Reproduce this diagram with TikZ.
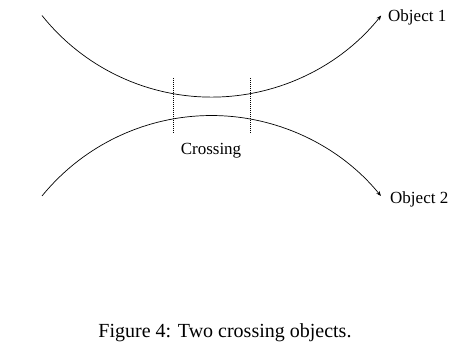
\documentclass[tikz,border=0pt]{standalone}
\usepackage{fontspec}
\setmainfont{Liberation Serif}
\usetikzlibrary{arrows.meta}
\begin{document}
\begin{tikzpicture}[x=1pt,y=1pt,
  curve/.style={line width=0.7pt,-{Stealth[length=5pt,width=4pt]}},
  guide/.style={line width=0.4pt,dash pattern=on 1pt off 1pt},
  lbl/.style={inner sep=0pt,font=\fontsize{17}{20}\selectfont},
  captext/.style={inner sep=0pt,font=\fontsize{20}{24}\selectfont}]
\useasboundingbox (0,0) rectangle (449,351);
% start points of the curves
\coordinate (o1s) at (42,335.5);
\coordinate (o2s) at (42,155);
% upper object (smile)
\draw[curve] (o1s) arc[start angle=218.6,end angle=321.4,radius=217] coordinate (o1e);
% lower object (frown)
\draw[curve] (o2s) arc[start angle=140.8,end angle=39.2,radius=218.7] coordinate (o2e);
% crossing guides
\coordinate (g1t) at (173,273);
\coordinate (g1b) at (173,218);
\coordinate (g2t) at (250,273);
\coordinate (g2b) at (250,218);
\draw[guide] (g1t) -- (g1b);
\draw[guide] (g2t) -- (g2b);
% labels
\node[lbl,anchor=base west] (l1) at (388,329) {Object 1};
\node[lbl,anchor=base west] (l2) at (390,148) {Object 2};
\node[lbl,anchor=base] (cr) at (211,196) {Crossing};
\node[captext,anchor=base] (caption) at (225,14) {Figure 4: Two crossing objects.};
\end{tikzpicture}
\end{document}
